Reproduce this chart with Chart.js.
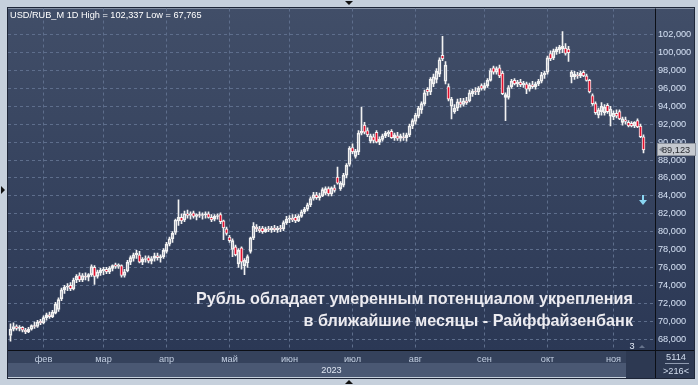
<!DOCTYPE html>
<html><head><meta charset="utf-8">
<script src="https://cdn.jsdelivr.net/npm/chart.js@4.4.1/dist/chart.umd.min.js"></script>
<style>html,body{margin:0;padding:0;background:#c6d0dc;overflow:hidden}canvas{display:block}</style>
</head><body><canvas id="c" width="698" height="385"></canvas>
<script>
// ---- data (USD/RUB_M, daily, 2023) ----
const opens = [68.4,69.1,69.4,69.2,69.3,69.0,68.8,69.1,69.5,69.4,70.0,69.8,70.4,70.7,70.5,70.9,71.3,72.5,73.5,73.8,
74.0,73.6,74.6,75.1,74.6,75.0,74.9,75.2,76.0,75.0,75.4,75.6,75.8,75.5,75.9,76.3,76.1,76.2,75.1,75.6,
76.6,77.0,77.4,77.4,76.6,76.9,77.1,76.7,77.0,77.3,77.1,77.2,77.8,78.6,79.2,79.9,81.2,81.6,81.3,82.0,
81.8,82.1,81.7,81.9,81.8,81.9,82.0,81.6,81.4,81.7,81.9,81.2,80.3,79.4,78.0,78.3,76.4,78.2,76.2,76.5,
77.8,79.3,80.5,80.3,80.4,80.0,80.3,80.2,80.4,80.2,80.4,80.3,81.0,81.4,81.5,81.6,81.2,81.7,82.2,82.5,
83.0,83.7,84.1,83.8,84.0,84.3,84.8,84.2,84.9,86.1,84.8,85.2,86.3,87.5,89.4,88.4,88.9,91.0,91.9,91.3,
90.1,90.6,91.1,90.0,90.3,90.7,90.9,91.2,90.5,90.7,90.4,90.6,90.5,90.8,91.8,92.3,92.9,93.6,94.3,95.9,
95.6,96.5,97.0,97.6,99.7,96.8,96.2,94.0,93.4,93.8,94.5,94.2,94.6,94.6,95.4,95.7,95.6,96.3,96.0,96.3,
96.9,98.3,97.8,98.3,97.7,95.0,95.0,96.2,96.9,96.5,96.7,96.4,96.5,95.9,96.4,96.2,96.5,96.8,97.5,97.8,
99.9,99.4,100.1,100.3,100.4,100.5,100.4,97.3,97.3,97.5,97.4,97.8,97.4,96.9,95.2,94.3,93.0,93.4,93.3,94.1,
92.9,92.8,93.2,93.4,92.2,92.5,92.2,92.1,91.8,92.4,91.8,90.6];
const highs = [69.7,69.8,69.6,69.5,69.4,69.2,69.3,69.6,69.9,70.1,70.2,70.6,70.9,71.0,71.2,72.1,72.6,73.7,74.0,74.2,
74.3,74.8,75.2,75.4,75.3,75.4,75.3,76.3,76.2,75.7,75.9,76.0,76.0,76.1,76.3,76.5,76.4,76.3,75.8,76.8,
77.3,77.6,77.9,77.8,77.1,77.3,77.3,77.2,77.6,77.6,77.4,78.1,78.8,79.4,80.0,81.4,83.56,82.0,82.3,82.4,
82.2,82.3,82.0,82.2,82.1,82.2,82.2,81.9,81.9,82.0,82.1,81.3,80.5,79.6,79.2,78.5,78.1,78.3,77.0,77.4,
79.4,81.0,80.8,80.6,80.6,80.5,80.6,80.6,80.7,80.6,80.7,81.2,81.7,81.8,81.9,81.9,81.9,82.4,82.7,83.2,
83.9,84.4,84.4,84.3,84.9,85.0,85.0,85.0,85.2,87.2,85.6,86.5,87.6,89.5,89.8,89.2,91.3,93.9,92.2,91.6,
90.9,90.9,91.3,90.6,90.9,91.2,91.3,91.4,91.0,91.1,90.9,91.0,91.0,92.0,92.6,93.2,94.0,94.5,95.8,96.1,
97.2,97.6,98.2,99.4,101.8,99.0,96.5,95.0,94.2,94.8,94.9,94.9,95.0,95.8,95.9,96.1,96.2,96.5,96.6,97.1,
98.2,98.5,98.4,98.6,97.9,95.5,96.3,97.0,97.1,96.9,97.0,96.8,96.7,96.6,96.8,96.7,97.0,97.8,97.9,99.6,
100.2,100.4,100.6,100.8,102.337,101.0,100.7,98.0,97.9,97.8,97.9,98.0,97.6,97.0,95.4,94.5,93.8,94.4,94.2,94.3,
94.0,93.5,93.6,93.6,92.8,92.8,92.4,92.3,92.3,92.6,92.0,90.8];
const lows = [67.765,68.9,69.0,68.9,68.8,68.6,68.7,69.0,69.2,69.3,69.6,69.7,70.1,70.3,70.4,70.8,71.1,72.3,73.1,73.4,
73.4,73.5,74.3,74.4,74.4,74.6,74.5,75.0,74.1,74.8,75.1,75.2,75.3,75.3,75.6,75.9,75.9,74.9,74.9,75.5,
76.3,76.7,77.0,76.5,76.3,76.6,76.5,76.4,76.7,76.8,76.6,77.0,77.6,78.4,78.8,79.7,80.7,80.9,81.1,81.5,
81.4,81.5,81.3,81.6,81.4,81.5,81.5,81.1,81.2,81.4,80.9,79.1,79.6,78.8,77.2,77.3,76.0,75.8,75.2,76.0,
77.6,79.1,80.0,79.9,79.8,79.9,80.0,79.9,80.0,79.9,80.0,80.1,80.8,81.0,81.1,81.0,81.1,81.6,82.0,82.3,
82.8,83.5,83.6,83.5,83.9,84.1,84.0,84.0,84.4,85.3,84.6,85.0,86.0,87.3,88.7,88.2,88.6,90.8,90.9,90.6,
89.9,89.9,89.9,89.7,90.1,90.5,90.6,90.4,90.2,90.2,90.1,90.2,90.1,90.6,91.5,92.0,92.7,93.2,94.1,95.2,
95.3,96.2,96.6,97.3,99.1,96.5,94.6,92.6,93.2,93.5,93.9,94.0,94.2,94.5,95.1,95.3,95.3,95.8,95.8,96.1,
96.8,97.6,97.6,97.2,95.3,92.4,94.8,96.0,96.4,96.2,96.2,96.1,95.4,95.7,96.0,95.9,96.3,96.6,97.1,97.6,
99.1,99.2,99.8,99.9,100.0,99.7,99.0,96.6,97.0,97.1,97.2,97.3,96.8,95.5,94.1,93.1,92.7,93.0,93.0,93.2,
91.8,92.5,92.7,92.5,91.9,92.0,91.7,91.7,91.6,91.6,90.5,88.8];
const closes = [69.1,69.4,69.2,69.3,69.0,68.8,69.1,69.5,69.4,69.9,69.8,70.4,70.7,70.5,71.0,71.9,72.4,73.5,73.8,73.9,
73.6,74.6,75.0,74.6,75.1,74.9,75.2,76.1,75.0,75.5,75.7,75.8,75.5,75.9,76.2,76.1,76.3,75.1,75.5,76.6,
77.1,77.4,77.6,76.6,76.9,77.0,76.7,77.0,77.3,77.1,77.2,77.9,78.6,79.2,79.8,81.3,81.6,81.2,82.0,81.8,
82.0,81.7,81.9,81.8,81.9,82.0,81.6,81.3,81.7,81.8,81.1,80.4,79.8,79.0,79.0,77.4,77.9,76.6,76.8,77.2,
79.3,80.6,80.3,80.1,80.0,80.3,80.2,80.4,80.2,80.4,80.3,81.0,81.4,81.5,81.3,81.2,81.7,82.2,82.5,83.0,
83.7,84.1,83.8,84.0,84.7,84.8,84.2,84.9,84.6,85.4,85.4,86.3,87.4,89.3,88.9,89.0,91.0,91.2,91.1,90.8,
90.7,90.2,90.0,90.3,90.7,91.0,91.1,90.5,90.8,90.4,90.7,90.5,90.8,91.8,92.4,93.0,93.8,94.3,95.5,95.6,
97.0,97.3,97.9,99.2,99.3,98.6,94.8,94.8,93.8,94.5,94.2,94.6,94.4,95.5,95.7,95.6,96.0,96.0,96.3,96.9,
98.0,97.8,98.2,97.4,95.4,95.3,96.1,96.8,96.5,96.7,96.4,96.6,95.9,96.4,96.2,96.5,96.8,97.5,97.7,99.4,
99.3,100.2,100.4,100.6,100.7,99.9,100.0,97.8,97.6,97.4,97.7,97.4,96.9,95.6,94.3,93.3,93.6,94.0,93.9,93.4,
93.7,93.2,92.9,92.6,92.6,92.3,91.8,91.8,92.2,91.7,90.6,89.123];
const monthIdx = [11,31,52,73,93,114,135,158,179,201];
const monthNames = ['фев','мар','апр','май','июн','июл','авг','сен','окт','ноя'];
const yTicks = [68,70,72,74,76,78,80,82,84,86,88,90,92,94,96,98,100,102];
const yearLabel = '2023';
const symbolLabel = 'USD/RUB_M 1D';
const noteLines = ['Рубль обладает умеренным потенциалом укрепления','в ближайшие месяцы - Райффайзенбанк'];
const cornerTop = '5114', cornerBottom = '>216<', badgeText = '3';

// ---- build datasets ----
const fmt = v => v.toFixed(3).replace('.', ',');
const idx = closes.map((_, i) => i);
const bodyData = idx.map(i => ({x: i, y: [opens[i], closes[i]]}));
const upperWick = idx.map(i => ({x: i, y: [Math.max(opens[i], closes[i]), highs[i]]}));
const lowerWick = idx.map(i => ({x: i, y: [lows[i], Math.min(opens[i], closes[i])]}));

const FONT = "'Liberation Sans', Arial, sans-serif";
Chart.defaults.font.family = FONT;

const panels = {
  id: 'panels',
  beforeDraw(chart) {
    const {ctx, chartArea: a} = chart;
    ctx.save();
    ctx.fillStyle = '#c6d0dc'; ctx.fillRect(0, 0, 698, 385);
    const g = ctx.createLinearGradient(0, a.top, 0, a.bottom);
    g.addColorStop(0, '#414e68'); g.addColorStop(1, '#2b3855');
    ctx.fillStyle = g;
    ctx.fillRect(a.left, a.top, a.right - a.left + 40, a.bottom - a.top);
    ctx.fillStyle = '#35425c'; ctx.fillRect(a.left, a.bottom, a.right - a.left, 13);
    ctx.fillStyle = '#4a5873'; ctx.fillRect(a.left, a.bottom + 13, a.right - a.left - 29, 14);
    ctx.fillStyle = '#2d3952'; ctx.fillRect(a.right - 29, a.bottom, 29, 28);
    ctx.fillStyle = '#2d3952'; ctx.fillRect(a.right, a.bottom, 40, 28);
    ctx.restore();
  },
  afterDatasetsDraw(chart) {
    const {ctx, chartArea: a, scales} = chart;
    ctx.save();
    // header
    ctx.fillStyle = '#ffffff';
    ctx.font = '9.2px ' + FONT;
    ctx.textBaseline = 'middle'; ctx.textAlign = 'left';
    const hi = Math.max(...highs), lo = Math.min(...lows);
    ctx.fillText(symbolLabel + ' High = ' + fmt(hi) + ' Low = ' + fmt(lo), 10, 15);
    // note
    ctx.font = 'bold 16.2px ' + FONT;
    ctx.fillStyle = '#ecebf0';
    ctx.textAlign = 'right';
    ctx.fillText(noteLines[0], 633, 300);
    ctx.fillText(noteLines[1], 633, 322);
    // cyan arrow
    ctx.fillStyle = '#8ad6f2'; ctx.strokeStyle = '#8ad6f2'; ctx.lineWidth = 2;
    ctx.beginPath(); ctx.moveTo(643, 195); ctx.lineTo(643, 202); ctx.stroke();
    ctx.beginPath(); ctx.moveTo(639, 200); ctx.lineTo(647, 200); ctx.lineTo(643, 205); ctx.closePath(); ctx.fill();
    // badge
    ctx.font = '9.2px ' + FONT; ctx.textAlign = 'center';
    ctx.fillStyle = '#e3eaf6'; ctx.fillText(badgeText, 632, 346);
    ctx.fillStyle = '#66738c';
    ctx.beginPath(); ctx.moveTo(639, 348); ctx.lineTo(645, 348); ctx.lineTo(642, 345); ctx.closePath(); ctx.fill();
    ctx.restore();
  },
  afterDraw(chart) {
    const {ctx, chartArea: a, scales} = chart;
    ctx.save();
    // separators
    ctx.fillStyle = '#0c0f16';
    ctx.fillRect(a.right, a.top, 1, 378 - a.top);
    ctx.fillRect(a.left, a.bottom, 694 - a.left, 1);
    ctx.fillStyle = '#1e2638';
    ctx.fillRect(7, 7, 688, 1); ctx.fillRect(7, 7, 1, 371); ctx.fillRect(694, 7, 1, 371); ctx.fillRect(7, 378, 688, 1);
    // frame arrows
    ctx.fillStyle = '#111';
    ctx.beginPath(); ctx.moveTo(345, 1); ctx.lineTo(353, 1); ctx.lineTo(349, 5); ctx.closePath(); ctx.fill();
    ctx.beginPath(); ctx.moveTo(345, 384); ctx.lineTo(353, 384); ctx.lineTo(349, 380); ctx.closePath(); ctx.fill();
    ctx.beginPath(); ctx.moveTo(1, 186); ctx.lineTo(1, 194); ctx.lineTo(5, 190); ctx.closePath(); ctx.fill();
    // last price badge
    const y = Math.round(scales.y.getPixelForValue(closes[closes.length - 1]));
    ctx.fillStyle = '#c5c9cf'; ctx.fillRect(657, y - 7, 39, 13);
    ctx.strokeStyle = '#8c929c'; ctx.lineWidth = 1; ctx.strokeRect(657.5, y - 6.5, 38, 12);
    ctx.fillStyle = '#7d838d';
    ctx.beginPath(); ctx.moveTo(659, y - 0.5); ctx.lineTo(663, y - 3.5); ctx.lineTo(663, y + 2.5); ctx.closePath(); ctx.fill();
    ctx.fillStyle = '#2a2d33'; ctx.font = '9.2px ' + FONT; ctx.textAlign = 'left'; ctx.textBaseline = 'middle';
    ctx.fillText(fmt(closes[closes.length - 1]), 662, y);
    // corner box
    ctx.fillStyle = '#d3deef'; ctx.textAlign = 'center';
    ctx.fillText(cornerTop, 676, a.bottom + 7);
    ctx.fillText(cornerBottom, 676, a.bottom + 21);
    ctx.fillStyle = '#8f9bb0'; ctx.fillRect(665, a.bottom + 13, 24, 1);
    ctx.restore();
  }
};

new Chart(document.getElementById('c'), {
  type: 'bar',
  data: {
    datasets: [
      {data: upperWick, backgroundColor: '#f2f2f2', borderWidth: 0, barThickness: 1, grouped: false},
      {data: lowerWick, backgroundColor: '#f2f2f2', borderWidth: 0, barThickness: 1, grouped: false},
      {data: bodyData, barThickness: 3, grouped: false, borderWidth: 1, borderColor: '#f2f2f2', borderSkipped: false,
       backgroundColor: c => (closes[c.dataIndex] < opens[c.dataIndex] ? '#e3102e' : 'rgba(0,0,0,0)')}
    ]
  },
  options: {
    responsive: false,
    devicePixelRatio: 1,
    animation: false,
    layout: {padding: {left: 8, top: 8, right: 4, bottom: 7}},
    plugins: {legend: {display: false}, tooltip: {enabled: false}},
    scales: {
      x: {
        type: 'linear', min: -0.833, max: 214.83, offset: false,
        afterBuildTicks: s => { s.ticks = monthIdx.map(v => ({value: v})); },
        afterFit: s => { s.height = 28; },
        grid: {color: '#5e6e8c', offset: false, drawTicks: false},
        border: {display: false, dash: [3, 3]},
        ticks: {autoSkip: false, maxRotation: 0, padding: 4, color: '#c3cfe2', font: {size: 9.2},
                callback: (v, i) => monthNames[i]},
        title: {display: true, text: yearLabel, color: '#dfe6f2', font: {size: 9.2}, padding: {top: 0, bottom: 2}}
      },
      y: {
        type: 'linear', position: 'right', min: 66.778, max: 104.92,
        afterBuildTicks: s => { s.ticks = yTicks.map(v => ({value: v})); },
        afterFit: s => { s.width = 39; },
        grid: {color: '#5e6e8c', drawTicks: false},
        border: {display: false, dash: [3, 3]},
        ticks: {padding: 3, color: '#d5e1f4', font: {size: 9.2}, callback: v => fmt(v)}
      }
    }
  },
  plugins: [panels]
});
</script>
</body></html>
